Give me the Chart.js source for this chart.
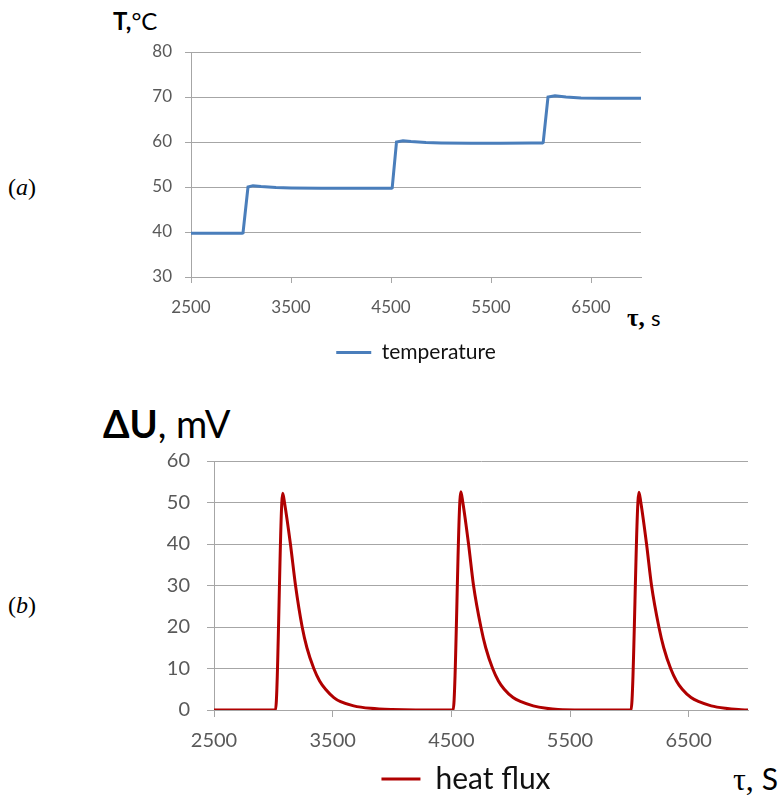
<!DOCTYPE html>
<html>
<head>
<meta charset="utf-8">
<script src="https://cdn.jsdelivr.net/npm/chart.js@4/dist/chart.umd.min.js"></script>
<style>
  html, body { margin: 0; padding: 0; background: #fff; width: 782px; height: 795px; overflow: hidden; }
  .box { position: absolute; }
  .lbl { position: absolute; white-space: nowrap; line-height: 1; color: #000; }
  .panel { font-family: "Liberation Serif", serif; font-size: 24px; }
  .panel i { font-style: italic; }
</style>
</head>
<body>
<div class="lbl panel" style="left:8px; top:175px;">(<i>a</i>)</div>
<div class="lbl panel" style="left:8px; top:593px;">(<i>b</i>)</div>

<div class="lbl" style="left:113px; top:9px; font-family:Lato, sans-serif; font-size:24px;"><b>T,</b>°C</div>
<div class="lbl" style="left:627px; top:305px; font-family:'Liberation Serif', serif; font-size:25px;"><b>τ,</b> <span style="font-family:Lato, sans-serif; font-size:22px;">s</span></div>

<div class="lbl" style="left:103px; top:404px; font-family:Lato, sans-serif; font-size:38px;"><b>ΔU</b>, mV</div>
<div class="lbl" style="left:733px; top:763px; font-family:'Liberation Serif', serif; font-size:32px;">τ, <span style="font-family:Lato, sans-serif; font-size:30px;">S</span></div>

<div class="box" style="left:100px; top:0px; width:640px; height:375px;"><canvas id="c1"></canvas></div>
<div class="box" style="left:100px; top:380px; width:682px; height:426px;"><canvas id="c2"></canvas></div>

<script>
// ---- data ----
const tempTime  = [2500, 2700, 2900, 3010, 3020, 3070, 3120, 3200, 3350, 3500, 3800, 4100, 4400, 4505, 4512, 4555, 4620, 4700, 4850, 5000, 5300, 5600, 5900, 6015, 6022, 6070, 6140, 6250, 6400, 6600, 6800, 7000];
const tempValue = [39.7, 39.7, 39.7, 39.7, 39.8, 50.0, 50.3, 50.1, 49.9, 49.8, 49.7, 49.7, 49.7, 49.7, 49.8, 60.0, 60.25, 60.1, 59.9, 59.8, 59.7, 59.7, 59.8, 59.8, 59.9, 70.0, 70.25, 70.0, 69.8, 69.7, 69.7, 69.7];

const fluxTime  = [2500, 3018, 3079, 3094, 3144, 3187, 3243, 3283, 3341, 3390, 3440, 3510, 3567, 3677, 3820, 4000, 4200,
                   4515, 4580, 4597, 4645, 4687, 4749, 4790, 4848, 4897, 4946, 5020, 5087, 5190, 5300, 5400, 5600,
                   6014, 6081, 6097, 6145, 6187, 6249, 6290, 6348, 6397, 6446, 6520, 6587, 6690, 6810, 6920, 7000];
const fluxValue = [0, 0, 52.2, 50, 40, 30, 20, 15, 10, 7, 5, 3, 2, 1, 0.4, 0.1, 0,
                   0, 52.6, 50, 40, 30, 20, 15, 10, 7, 5, 3, 2, 1, 0.4, 0.1, 0,
                   0, 52.5, 50, 40, 30, 20, 15, 10, 7, 5, 3, 2, 1, 0.4, 0.1, 0];

const xTickValues = [2500, 3500, 4500, 5500, 6500];
const tempTicks = [30, 40, 50, 60, 70, 80];
const fluxTicks = [0, 10, 20, 30, 40, 50, 60];
const tempLabel = 'temperature';
const fluxLabel = 'heat flux';

const GRID = '#a6a6a6';
const TICKC = '#595959';

function pts(xs, ys) { return xs.map((x, i) => ({ x: x, y: ys[i] })); }

function makeChart(id, cfg) {
  const scales = {
    x: {
      type: 'linear',
      min: 2500, max: 7000,
      afterBuildTicks: s => { s.ticks = xTickValues.map(v => ({ value: v })); },
      afterFit: s => { s.height = cfg.xH; },
      grid: { drawOnChartArea: false, drawTicks: true, tickLength: cfg.tl, color: GRID, lineWidth: 1 },
      border: { display: true, color: GRID, width: 1 },
      ticks: { color: TICKC, padding: cfg.xPad, maxRotation: 0, autoSkip: false,
               callback: v => String(v),
               font: { family: 'Lato', size: cfg.tickSize } }
    },
    y: {
      min: cfg.yTicks[0], max: cfg.yTicks[cfg.yTicks.length - 1],
      afterBuildTicks: s => { s.ticks = cfg.yTicks.map(v => ({ value: v })); },
      afterFit: s => { s.width = cfg.yW; },
      grid: { drawOnChartArea: true, drawTicks: true, tickLength: cfg.tl, color: GRID, lineWidth: 1 },
      border: { display: true, color: GRID, width: 1 },
      ticks: { color: TICKC, padding: cfg.yPad, callback: v => String(v),
               font: { family: 'Lato', size: cfg.tickSize } }
    }
  };
  if (cfg.rightW) {
    // empty spacer on the right so the full-width legend is centred like the reference
    scales.spacer = {
      type: 'linear', position: 'right', display: true,
      afterFit: s => { s.width = cfg.rightW; },
      grid: { display: false }, border: { display: false }, ticks: { display: false }
    };
  }
  return new Chart(document.getElementById(id), {
    type: 'line',
    data: {
      datasets: [{
        label: cfg.label,
        data: pts(cfg.xs, cfg.ys),
        borderColor: cfg.color,
        backgroundColor: cfg.color,
        borderWidth: 3,
        pointRadius: 0,
        cubicInterpolationMode: cfg.cubic ? 'monotone' : 'default'
      }]
    },
    options: {
      responsive: true,
      maintainAspectRatio: false,
      animation: false,
      events: [],
      layout: { padding: cfg.padding },
      plugins: {
        tooltip: { enabled: false },
        legend: {
          position: 'bottom',
          fullSize: cfg.legendFull,
          labels: {
            usePointStyle: true,
            pointStyle: 'line',
            pointStyleWidth: cfg.legendLine,
            padding: 8,
            color: '#111',
            font: { family: 'Lato', size: cfg.legendSize }
          }
        }
      },
      scales: scales
    }
  });
}

makeChart('c1', {
  label: tempLabel, xs: tempTime, ys: tempValue, color: '#4a7ebb',
  padding: { left: 0, top: 52, right: 99, bottom: 2 },
  legendFull: false, legendSize: 21, legendLine: 35,
  xH: 57, yW: 91, tl: 6, xPad: 14, yPad: 13, tickSize: 17, yTicks: tempTicks
});

makeChart('c2', {
  label: fluxLabel, xs: fluxTime, ys: fluxValue, color: '#b00000', cubic: true,
  padding: { left: 54, top: 81, right: 4, bottom: 2 },
  legendFull: true, legendSize: 30, legendLine: 39, rightW: 30,
  xH: 46, yW: 60, tl: 7, xPad: 12, yPad: 17, tickSize: 20, yTicks: fluxTicks
});
</script>
</body>
</html>
